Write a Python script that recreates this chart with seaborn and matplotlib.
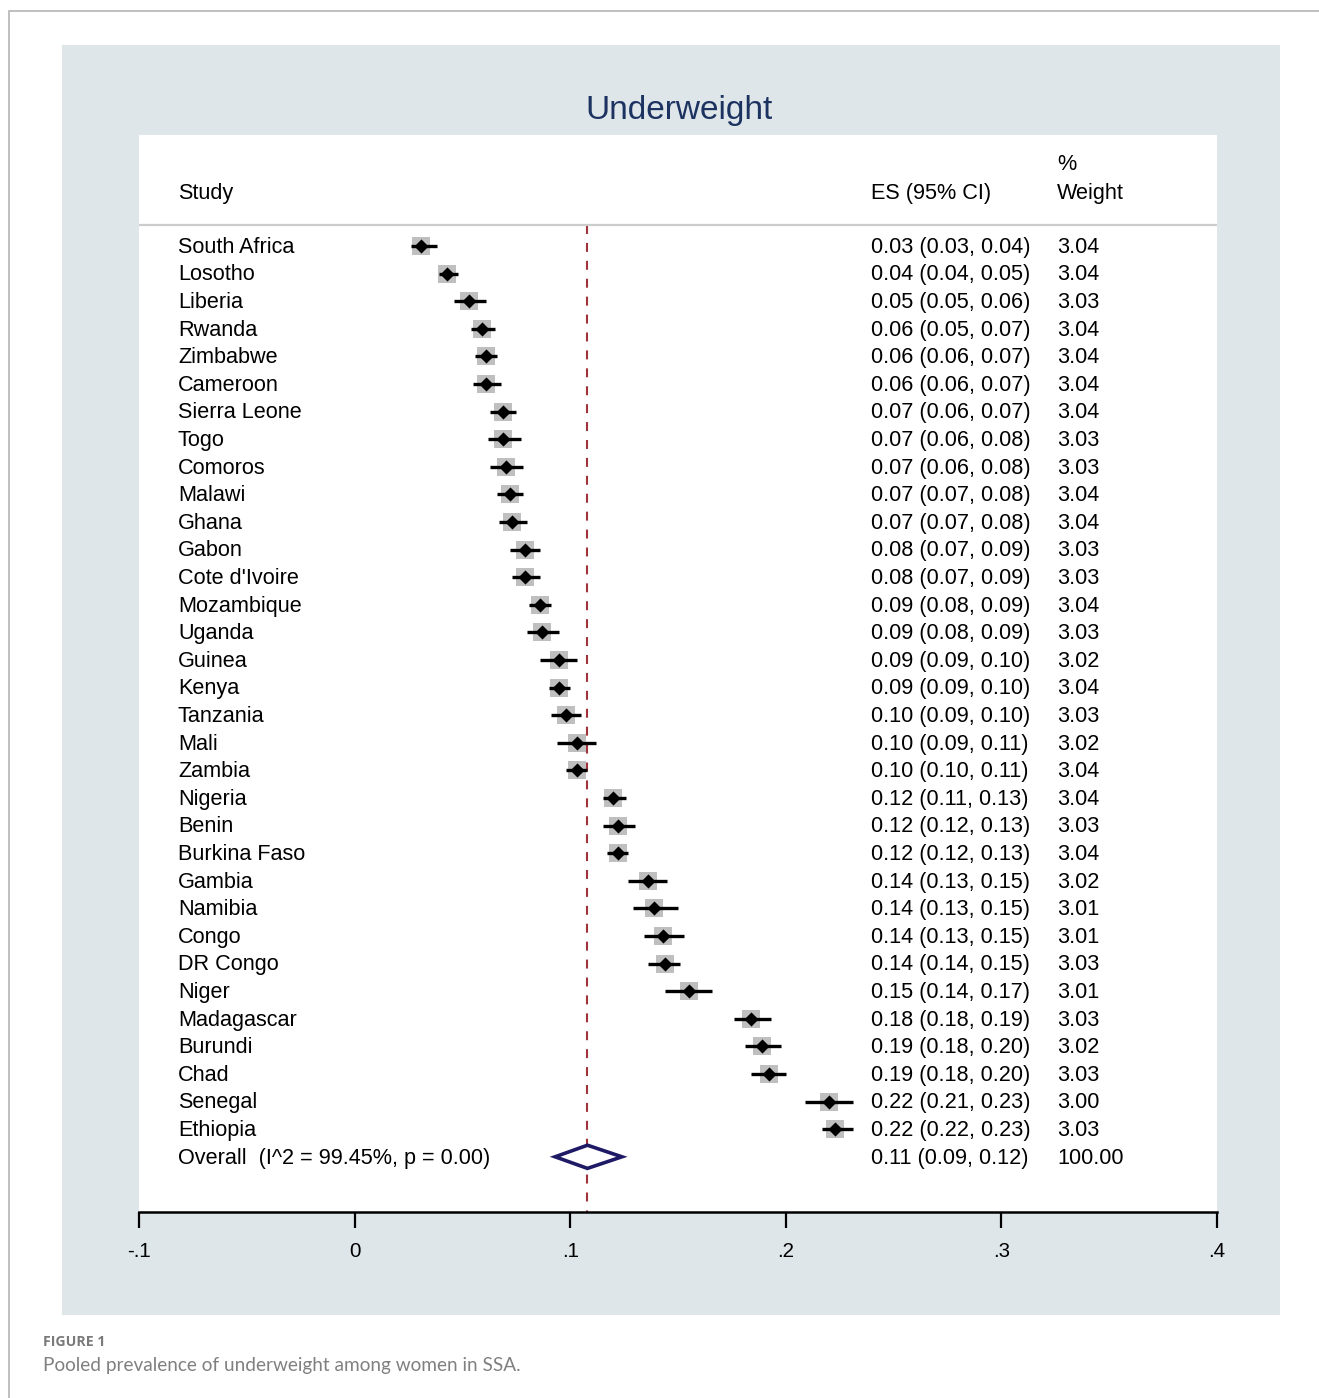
import numpy as np
import pandas as pd
import matplotlib
matplotlib.use("Agg")
import matplotlib.pyplot as plt
import matplotlib.patches as mpatches
import matplotlib.transforms as mtransforms
import seaborn as sns

# data
studies = ["South Africa", "Losotho", "Liberia", "Rwanda", "Zimbabwe", "Cameroon",
           "Sierra Leone", "Togo", "Comoros", "Malawi", "Ghana", "Gabon",
           "Cote d'Ivoire", "Mozambique", "Uganda", "Guinea", "Kenya", "Tanzania",
           "Mali", "Zambia", "Nigeria", "Benin", "Burkina Faso", "Gambia", "Namibia",
           "Congo", "DR Congo", "Niger", "Madagascar", "Burundi", "Chad", "Senegal",
           "Ethiopia"]
es = [0.031, 0.043, 0.053, 0.059, 0.061, 0.061, 0.069, 0.069, 0.070, 0.072,
      0.073, 0.079, 0.079, 0.086, 0.087, 0.095, 0.095, 0.098, 0.103, 0.103,
      0.120, 0.122, 0.122, 0.136, 0.139, 0.143, 0.144, 0.155, 0.184, 0.189,
      0.192, 0.220, 0.223]
ci_lo = [0.026, 0.039, 0.046, 0.054, 0.056, 0.055, 0.063, 0.062, 0.063, 0.066,
         0.067, 0.072, 0.073, 0.081, 0.080, 0.086, 0.090, 0.091, 0.094, 0.098,
         0.115, 0.115, 0.117, 0.127, 0.129, 0.134, 0.136, 0.144, 0.176, 0.181,
         0.184, 0.209, 0.217]
ci_hi = [0.038, 0.048, 0.061, 0.065, 0.066, 0.068, 0.075, 0.077, 0.078, 0.078,
         0.080, 0.086, 0.086, 0.091, 0.095, 0.103, 0.100, 0.105, 0.112, 0.108,
         0.126, 0.130, 0.127, 0.145, 0.150, 0.153, 0.151, 0.166, 0.193, 0.198,
         0.200, 0.231, 0.231]
es_labels = ["0.03 (0.03, 0.04)", "0.04 (0.04, 0.05)", "0.05 (0.05, 0.06)",
             "0.06 (0.05, 0.07)", "0.06 (0.06, 0.07)", "0.06 (0.06, 0.07)",
             "0.07 (0.06, 0.07)", "0.07 (0.06, 0.08)", "0.07 (0.06, 0.08)",
             "0.07 (0.07, 0.08)", "0.07 (0.07, 0.08)", "0.08 (0.07, 0.09)",
             "0.08 (0.07, 0.09)", "0.09 (0.08, 0.09)", "0.09 (0.08, 0.09)",
             "0.09 (0.09, 0.10)", "0.09 (0.09, 0.10)", "0.10 (0.09, 0.10)",
             "0.10 (0.09, 0.11)", "0.10 (0.10, 0.11)", "0.12 (0.11, 0.13)",
             "0.12 (0.12, 0.13)", "0.12 (0.12, 0.13)", "0.14 (0.13, 0.15)",
             "0.14 (0.13, 0.15)", "0.14 (0.13, 0.15)", "0.14 (0.14, 0.15)",
             "0.15 (0.14, 0.17)", "0.18 (0.18, 0.19)", "0.19 (0.18, 0.20)",
             "0.19 (0.18, 0.20)", "0.22 (0.21, 0.23)", "0.22 (0.22, 0.23)"]
weights = ["3.04", "3.04", "3.03", "3.04", "3.04", "3.04", "3.04", "3.03", "3.03",
           "3.04", "3.04", "3.03", "3.03", "3.04", "3.03", "3.02", "3.04", "3.03",
           "3.02", "3.04", "3.04", "3.03", "3.04", "3.02", "3.01", "3.01", "3.03",
           "3.01", "3.03", "3.02", "3.03", "3.00", "3.03"]
overall_es = 0.108
overall_lo = 0.093
overall_hi = 0.124
overall_label = "Overall  (I^2 = 99.45%, p = 0.00)"
overall_es_label = "0.11 (0.09, 0.12)"
overall_weight = "100.00"
xticks = [-0.1, 0, 0.1, 0.2, 0.3, 0.4]
xtick_labels = ["-.1", "0", ".1", ".2", ".3", ".4"]

df = pd.DataFrame({"study": studies, "es": es, "lo": ci_lo, "hi": ci_hi,
                   "row": np.arange(len(studies))})
overall_row = len(studies)

sns.set_theme(style="white")
plt.rcParams["font.family"] = ["Liberation Sans", "DejaVu Sans"]
plt.rcParams["text.color"] = "black"
plt.rcParams["xtick.color"] = "black"

W, H = 1319, 1398
fig = plt.figure(figsize=(W / 100, H / 100), dpi=100)
fig.patch.set_facecolor("white")

# outer frame (left and top edges only visible)
fig.add_artist(mpatches.Rectangle((9 / W, -0.1), 1.2, 1 - 11 / H + 0.1,
                                  transform=fig.transFigure, facecolor="none",
                                  edgecolor="#b4b4b4", lw=1.2))
# graph region
fig.add_artist(mpatches.Rectangle((62 / W, 1 - 1315 / H), (1280 - 62) / W,
                                  (1315 - 45) / H, transform=fig.transFigure,
                                  facecolor="#dfe6e9", edgecolor="none", zorder=0))

ax = fig.add_axes([139 / W, 1 - 1212 / H, (1217 - 139) / W, (1212 - 135) / H])
ax.set_facecolor("white")

row_px = 27.6
ax.set_xlim(-0.1, 0.4)
ax.set_ylim((1212 - 246) / row_px, (135 - 246) / row_px)

# boxes, CI lines, point markers
sns.scatterplot(data=df, x="es", y="row", marker="s", s=150, color="#bfbfbf",
                linewidth=0, ax=ax, zorder=2, legend=False)
ax.hlines(df["row"], df["lo"], df["hi"], color="black", lw=2.4, zorder=3)
sns.scatterplot(data=df, x="es", y="row", marker="D", s=52, color="black",
                linewidth=0, ax=ax, zorder=4, legend=False)

# overall diamond
h = 0.42
ax.add_patch(mpatches.Polygon([(overall_lo, overall_row), (overall_es, overall_row - h),
                               (overall_hi, overall_row), (overall_es, overall_row + h)],
                              closed=True, facecolor="white", edgecolor="#1f1a66",
                              lw=2.6, zorder=5))

# pooled estimate line
ax.plot([overall_es, overall_es], [(225 - 246) / row_px, (1212 - 246) / row_px],
        color="#a0323c", lw=1.5, dashes=(4.3, 4.3), zorder=1)

# header separator
ax.axhline((225 - 246) / row_px, color="#cccccc", lw=1.6, zorder=1)

trans = mtransforms.blended_transform_factory(ax.transAxes, ax.transData)
fs = 15.6
dy = 0.05
x_name, x_es, x_w = (178 - 139) / 1078, (871 - 139) / 1078, (1057 - 139) / 1078
for i, (name, lab, w) in enumerate(zip(studies, es_labels, weights)):
    ax.text(x_name, i + dy, name, transform=trans, fontsize=fs, va="center", ha="left")
    ax.text(x_es, i + dy, lab, transform=trans, fontsize=fs, va="center", ha="left")
    ax.text(x_w, i + dy, w, transform=trans, fontsize=fs, va="center", ha="left")
ax.text(x_name, overall_row + dy, overall_label, transform=trans, fontsize=fs,
        va="center", ha="left")
ax.text(x_es, overall_row + dy, overall_es_label, transform=trans, fontsize=fs,
        va="center", ha="left")
ax.text(x_w, overall_row + dy, overall_weight, transform=trans, fontsize=fs,
        va="center", ha="left")

# column headers
ax.text(x_name, (193 - 246) / row_px, "Study", transform=trans, fontsize=fs,
        va="center", ha="left")
ax.text(x_es, (193 - 246) / row_px, "ES (95% CI)", transform=trans, fontsize=fs,
        va="center", ha="left")
ax.text(x_w, (193 - 246) / row_px, "Weight", transform=trans, fontsize=fs,
        va="center", ha="left")
ax.text(x_w, (165 - 246) / row_px, "%", transform=trans, fontsize=fs,
        va="center", ha="left")

# axes styling
for side in ["top", "left", "right"]:
    ax.spines[side].set_visible(False)
ax.spines["bottom"].set_color("black")
ax.spines["bottom"].set_linewidth(1.8)
ax.set_yticks([])
ax.set_xticks(xticks)
ax.set_xticklabels(xtick_labels, fontsize=14.8, color="black")
ax.tick_params(axis="x", direction="out", length=11.5, width=1.6, pad=10,
               color="black", labelcolor="black", bottom=True)
ax.set_xlabel("")
ax.set_ylabel("")

fig.text((584 + 773) / 2 / W, 1 - 110 / H, "Underweight", ha="center", va="center",
         fontsize=24, color="#1c3361")

fig.text(43 / W, 1 - 1342 / H, "FIGURE 1", ha="left", va="center", fontsize=10.2,
         fontweight="bold", color="#7a7a7a", family=["Open Sans", "DejaVu Sans"])
fig.text(43 / W, 1 - 1366 / H, "Pooled prevalence of underweight among women in SSA.",
         ha="left", va="center", fontsize=13.7, color="#808080",
         family=["Lato", "DejaVu Sans"])

fig.savefig("out.png", dpi=100)
